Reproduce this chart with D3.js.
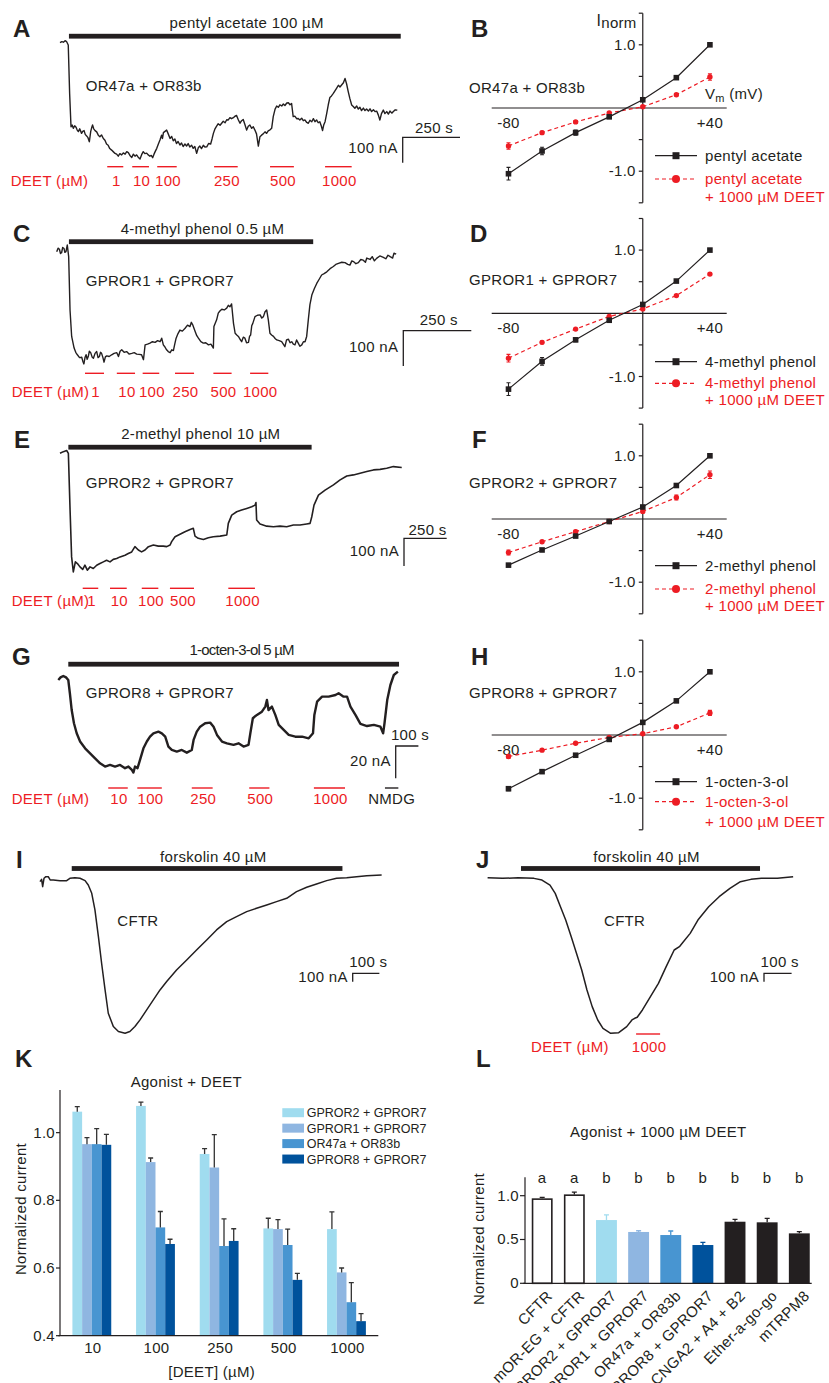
<!DOCTYPE html>
<html><head><meta charset="utf-8">
<script src="https://cdn.jsdelivr.net/npm/d3@7"></script>
<style>
body{margin:0;background:#fff}
text{font-family:"Liberation Sans",Arial,Helvetica,sans-serif;font-size:15px;letter-spacing:0.3px;fill:#231f20}
</style></head>
<body><svg id="fig" width="829" height="1383" xmlns="http://www.w3.org/2000/svg"></svg>
<script>
// ---------------- DATA ----------------
// Voltage-clamp traces: [time (s), current (nA)]
const traceA = [[0,0],[8,4],[15,2],[22,8],[29,4],[36,-9],[42,-200],[48,-332],[53,-325],[58,-338],[64,-328],[70,-334],[75,-345],[80,-351],[86,-340],[94,-358],[99,-350],[105,-347],[110,-362],[116,-368],[122,-375],[128,-391],[134,-350],[138,-336],[142,-325],[147,-340],[153,-347],[160,-352],[167,-365],[174,-371],[181,-364],[189,-378],[196,-385],[203,-400],[210,-405],[217,-418],[225,-424],[232,-430],[240,-437],[247,-440],[254,-448],[261,-438],[269,-443],[276,-435],[284,-440],[291,-430],[298,-434],[305,-445],[313,-453],[320,-440],[327,-448],[334,-443],[341,-452],[349,-459],[356,-442],[363,-430],[370,-438],[378,-436],[385,-443],[392,-448],[398,-445],[404,-454],[410,-440],[416,-428],[422,-417],[429,-400],[436,-384],[443,-365],[447,-378],[451,-355],[458,-350],[465,-345],[472,-360],[480,-378],[487,-370],[494,-387],[501,-380],[508,-398],[515,-390],[523,-404],[530,-396],[537,-410],[545,-400],[552,-408],[559,-398],[566,-412],[574,-405],[581,-417],[588,-410],[596,-437],[603,-415],[610,-408],[617,-418],[625,-405],[632,-412],[640,-411],[648,-398],[657,-400],[663,-380],[669,-358],[676,-340],[683,-329],[690,-320],[698,-326],[705,-318],[712,-310],[720,-316],[727,-304],[734,-305],[741,-296],[748,-300],[756,-296],[763,-290],[770,-287],[778,-305],[785,-318],[792,-308],[799,-303],[806,-322],[814,-345],[821,-330],[828,-325],[836,-338],[843,-332],[850,-345],[857,-360],[865,-408],[872,-371],[879,-365],[886,-360],[894,-352],[901,-358],[908,-348],[916,-344],[923,-338],[930,-292],[938,-262],[945,-250],[952,-255],[959,-245],[967,-250],[974,-242],[981,-248],[989,-238],[996,-237],[1003,-245],[1010,-240],[1017,-292],[1024,-290],[1032,-300],[1039,-299],[1046,-305],[1054,-298],[1061,-308],[1068,-305],[1076,-315],[1083,-318],[1090,-306],[1098,-312],[1105,-300],[1112,-312],[1119,-305],[1126,-316],[1133,-312],[1140,-330],[1145,-347],[1150,-325],[1156,-312],[1163,-280],[1170,-245],[1177,-216],[1184,-210],[1192,-200],[1199,-190],[1206,-180],[1214,-168],[1221,-175],[1228,-167],[1236,-158],[1243,-141],[1250,-163],[1257,-193],[1264,-220],[1272,-246],[1279,-252],[1286,-259],[1294,-250],[1301,-262],[1308,-255],[1315,-268],[1323,-258],[1330,-268],[1337,-262],[1345,-270],[1352,-261],[1359,-272],[1367,-265],[1374,-272],[1381,-270],[1388,-285],[1395,-305],[1402,-280],[1410,-266],[1417,-280],[1425,-272],[1432,-282],[1439,-270],[1447,-278],[1454,-272],[1462,-265],[1471,-266]];
const traceC = [[0,0],[5,10],[10,7],[14,-5],[18,-3],[22,12],[27,9],[30,-2],[34,0],[39,19],[44,-14],[49,-165],[55,-240],[64,-273],[70,-285],[76,-292],[84,-300],[92,-299],[96,-310],[100,-318],[104,-300],[108,-292],[112,-305],[116,-297],[120,-282],[125,-286],[130,-298],[135,-302],[141,-288],[147,-283],[152,-300],[157,-297],[161,-285],[165,-288],[170,-300],[174,-313],[179,-298],[184,-295],[193,-297],[202,-292],[211,-288],[221,-286],[227,-297],[233,-282],[239,-278],[248,-285],[257,-283],[266,-290],[276,-288],[285,-286],[294,-290],[303,-291],[312,-292],[319,-306],[325,-264],[334,-262],[343,-259],[352,-255],[362,-257],[371,-252],[380,-255],[386,-245],[392,-264],[398,-270],[404,-278],[410,-283],[417,-286],[423,-278],[429,-280],[434,-262],[439,-245],[446,-232],[453,-222],[462,-225],[472,-217],[481,-208],[490,-212],[495,-200],[500,-207],[509,-226],[515,-238],[521,-245],[530,-255],[539,-259],[548,-258],[558,-264],[567,-262],[576,-273],[578,-212],[588,-193],[594,-174],[600,-168],[607,-163],[616,-165],[625,-160],[631,-152],[637,-156],[643,-148],[650,-203],[656,-231],[662,-236],[668,-240],[674,-248],[680,-255],[686,-242],[692,-245],[698,-258],[705,-257],[709,-240],[713,-236],[717,-210],[721,-203],[729,-184],[738,-180],[748,-179],[754,-188],[760,-184],[766,-170],[772,-165],[778,-193],[784,-231],[790,-236],[797,-240],[803,-246],[809,-250],[818,-252],[827,-255],[833,-262],[839,-269],[845,-250],[852,-248],[858,-258],[864,-255],[870,-262],[876,-264],[882,-250],[888,-259],[894,-268],[901,-264],[907,-255],[913,-255],[919,-240],[925,-193],[931,-150],[938,-123],[947,-105],[956,-90],[965,-78],[974,-66],[983,-62],[993,-57],[1005,-48],[1017,-42],[1026,-36],[1036,-33],[1048,-30],[1060,-31],[1070,-36],[1078,-38],[1085,-26],[1091,-28],[1100,-34],[1109,-31],[1118,-22],[1127,-24],[1135,-30],[1140,-18],[1152,-22],[1160,-14],[1168,-26],[1176,-19],[1188,-12],[1201,-16],[1210,-20],[1218,-10],[1226,-14],[1235,-18],[1240,-4],[1248,-7]];
const traceE = [[0,0],[20,6],[39,10],[49,0],[59,-205],[68,-374],[78,-428],[90,-392],[102,-398],[117,-410],[133,-419],[146,-404],[160,-422],[176,-410],[195,-416],[215,-404],[234,-398],[254,-392],[273,-386],[293,-392],[312,-383],[332,-380],[352,-374],[381,-368],[400,-362],[420,-356],[439,-337],[459,-349],[478,-356],[498,-349],[518,-337],[547,-331],[576,-335],[605,-335],[625,-337],[645,-331],[654,-319],[674,-301],[703,-292],[732,-283],[762,-275],[781,-271],[791,-299],[810,-307],[840,-311],[869,-305],[898,-301],[938,-299],[977,-295],[986,-253],[1006,-223],[1035,-211],[1064,-205],[1094,-199],[1123,-193],[1143,-187],[1148,-178],[1152,-241],[1172,-255],[1211,-263],[1250,-265],[1289,-263],[1328,-265],[1367,-259],[1406,-259],[1445,-255],[1465,-253],[1475,-229],[1488,-187],[1514,-151],[1553,-133],[1602,-114],[1641,-96],[1680,-82],[1719,-78],[1758,-72],[1797,-66],[1836,-60],[1875,-58],[1914,-54],[1953,-48],[2002,-51]];
const traceG = [[0,0],[10,1.6],[22,2.5],[34,1.6],[44,0],[51,-8.2],[59,-18.6],[69,-26.8],[81,-33],[96,-38.1],[118,-42.3],[140,-45.4],[162,-48.5],[184,-51.6],[206,-53.6],[228,-52.6],[250,-53.6],[272,-52.6],[294,-54.6],[309,-53.6],[324,-55.7],[331,-57.3],[338,-53.6],[349,-54.6],[360,-49.5],[375,-42.3],[390,-38.1],[404,-35.1],[419,-33],[441,-32],[456,-33],[471,-35.1],[485,-41.2],[500,-43.3],[522,-44.3],[544,-43.3],[566,-45],[588,-43.3],[596,-37.1],[610,-32],[625,-28.9],[647,-26.8],[669,-26.4],[684,-28.9],[699,-34],[721,-38.1],[743,-39.2],[772,-40.2],[794,-39.2],[816,-41.2],[838,-40.2],[846,-33],[857,-23.7],[875,-21.6],[897,-19.6],[912,-16.5],[919,-12.4],[926,-18.6],[941,-16.5],[956,-21.6],[971,-27.8],[993,-30.9],[1015,-34],[1044,-35.1],[1074,-35.1],[1103,-36.1],[1122,-33],[1128,-21.6],[1140,-13.4],[1162,-10.3],[1191,-10.3],[1221,-9.3],[1235,-8.2],[1257,-10.3],[1272,-10.3],[1287,-16.5],[1309,-21.6],[1331,-27.2],[1360,-28.5],[1390,-27.8],[1419,-28.9],[1431,-33],[1437,-26.8],[1449,-12.4],[1463,-3.1],[1478,3.1],[1496,5.2]];
const traceI = [[0,-40],[6,-12],[10,-100],[15,0],[22,20],[31,20],[38,-20],[50,-20],[75,-28],[100,-28],[112,0],[131,8],[150,0],[169,-28],[181,-80],[194,-180],[206,-380],[219,-700],[231,-1020],[244,-1340],[256,-1620],[275,-1780],[294,-1840],[319,-1860],[337,-1840],[356,-1780],[375,-1700],[400,-1580],[425,-1460],[450,-1340],[475,-1240],[512,-1100],[550,-980],[587,-860],[625,-740],[662,-620],[700,-520],[737,-460],[775,-400],[812,-360],[850,-320],[887,-280],[925,-240],[962,-160],[1000,-108],[1037,-68],[1075,-28],[1112,0],[1150,8],[1187,20],[1225,32],[1281,40]];
const traceJ = [[0,0],[54,-8],[111,0],[168,-8],[197,-28],[226,-88],[245,-188],[264,-348],[283,-508],[303,-708],[322,-908],[341,-1108],[360,-1348],[379,-1548],[399,-1708],[418,-1808],[446,-1868],[475,-1860],[504,-1788],[523,-1708],[533,-1688],[542,-1676],[561,-1588],[590,-1428],[619,-1268],[647,-1068],[676,-868],[695,-828],[705,-788],[734,-668],[762,-508],[801,-348],[839,-228],[878,-128],[916,-48],[954,-20],[992,-8],[1050,-8],[1107,12]];

// Agonist application windows (s)
const agonistA = [39,1486], agonistC = [45,943], agonistE = [49,1474], agonistG = [44,1501], agonistI = [119,1134], agonistJ = [121,987];
// DEET application windows (s) and concentrations (µM)
const deetA = [[206,276],[315,388],[424,509],[672,775],[916,1020],[1156,1272]];
const deetLabelsA = ["1","10","100","250","500","1000"];
const deetC = [[104,174],[221,288],[316,377],[435,505],[576,643],[711,778]];
const deetLabelsC = ["1","10","100","250","500","1000"];
const deetE = [[133,224],[293,391],[479,576],[644,785],[986,1142]];
const deetLabelsE = ["1","10","100","500","1000"];
const deetG = [[220,306],[348,456],[588,680],[841,930],[1126,1263]];
const deetLabelsG = ["10","100","250","500","1000"];
const nmdgG = [1439,1498];
const deetJ = [[538,625]];
const deetLabelsJ = ["1000"];
// scale bars [s, nA]
const scaleA = [250,100], scaleC = [250,100], scaleE = [250,100], scaleG = [100,20], scaleI = [100,100], scaleJ = [100,100];

// I-V relations
const voltages = [-80,-60,-40,-20,0,20,40];
const ivB_ag = [-1.04,-0.68,-0.39,-0.14,0.13,0.48,1.0], ivB_agErr = [0.1,0.06,0.04,0.02,0.01,0.02,0.01];
const ivB_deet = [-0.6,-0.39,-0.22,-0.08,0.02,0.21,0.49], ivB_deetErr = [0.05,0.02,0.02,0.01,0.01,0.02,0.05];
const ivD_ag = [-1.2,-0.76,-0.42,-0.11,0.14,0.51,1.0], ivD_agErr = [0.1,0.06,0.03,0.01,0.01,0.02,0.01];
const ivD_deet = [-0.71,-0.46,-0.25,-0.05,0.07,0.28,0.62], ivD_deetErr = [0.06,0.02,0.01,0.01,0.01,0.01,0.02];
const ivF_ag = [-0.73,-0.49,-0.27,-0.04,0.19,0.53,1.0], ivF_agErr = [0.02,0.01,0.01,0.01,0.01,0.01,0.01];
const ivF_deet = [-0.53,-0.36,-0.2,-0.04,0.12,0.34,0.7], ivF_deetErr = [0.04,0.02,0.02,0.01,0.02,0.04,0.06];
const ivH_ag = [-0.85,-0.58,-0.32,-0.07,0.2,0.54,1.0], ivH_agErr = [0.03,0.01,0.01,0.01,0.01,0.01,0.01];
const ivH_deet = [-0.34,-0.24,-0.13,-0.04,0.02,0.13,0.35], ivH_deetErr = [0.03,0.01,0.01,0.01,0.01,0.01,0.04];
const ivTickLabels = ["-80","+40"];

// Panel K
const kCategories = ["10","100","250","500","1000"];
const kSeries = ["GPROR2 + GPROR7","GPROR1 + GPROR7","OR47a + OR83b","GPROR8 + GPROR7"];
const kValues = [
  [1.062,1.079,0.937,0.717,0.715],
  [0.966,0.913,0.897,0.715,0.587],
  [0.966,0.720,0.665,0.668,0.499],
  [0.964,0.671,0.680,0.565,0.443]];
const kErrors = [
  [0.015,0.011,0.016,0.030,0.051],
  [0.019,0.012,0.097,0.028,0.013],
  [0.046,0.047,0.080,0.047,0.058],
  [0.031,0.014,0.036,0.019,0.022]];
const kYTicks = [0.4,0.6,0.8,1.0];
const kColors = ["#a0dcef","#8fb6e1","#4895d1","#00529c"];

// Panel L
const lCategories = ["CFTR","mOR-EG + CFTR","GPROR2 + GPROR7","GPROR1 + GPROR7","OR47a + OR83b","GPROR8 + GPROR7","CNGA2 + A4 + B2","Ether-a-go-go","mTRPM8"];
const lValues = [0.97,1.015,0.722,0.586,0.551,0.437,0.703,0.696,0.570];
const lErrors = [0.01,0.025,0.058,0.014,0.046,0.031,0.027,0.045,0.019];
const lLetters = ["a","a","b","b","b","b","b","b","b"];
const lFills = ["#ffffff","#ffffff","#a0dcef","#8fb6e1","#4895d1","#00529c","#231f20","#231f20","#231f20"];
const lYTicks = [0,0.5,1.0];

// ---------------- DRAWING ----------------
const RED = "#ed1c24", INK = "#231f20";
const svg = d3.select("#fig");

function addText(x, y, s, o = {}) {
  const t = svg.append("text").attr("x", x).attr("y", y).text(s);
  if (o.anchor) t.attr("text-anchor", o.anchor);
  if (o.fill) t.style("fill", o.fill);
  if (o.size) t.style("font-size", o.size + "px");
  if (o.weight) t.style("font-weight", o.weight);
  if (o.ls != null) t.style("letter-spacing", o.ls + "px");
  return t;
}
function panelLetter(x, y, s) { addText(x, y, s, {size: 24, weight: "bold", ls: 0}); }

function tracePanel(p) {
  const x = d3.scaleLinear().domain([0, 1000]).range([p.x0, p.x0 + 1000 * p.kx]);
  const y = d3.scaleLinear().domain([0, -1000]).range([p.y0, p.y0 + 1000 * p.ky]);
  svg.append("path").datum(p.data)
    .attr("fill", "none").attr("stroke", INK).attr("stroke-width", p.sw || 1.4).attr("stroke-linejoin", "round")
    .attr("d", d3.line().x(d => x(d[0])).y(d => y(d[1])));
  svg.append("rect").attr("x", x(p.ag[0])).attr("width", x(p.ag[1]) - x(p.ag[0]))
    .attr("y", p.agY - 2.4).attr("height", 4.8).attr("fill", INK);
  addText(p.agTx, p.agTy, p.agLabel, {anchor: "middle", ls: p.agLs});
  addText(p.recX, p.recY, p.rec);
  p.deet.forEach((d, i) => {
    svg.append("line").attr("x1", x(d[0])).attr("x2", x(d[1])).attr("y1", p.deetY).attr("y2", p.deetY)
      .attr("stroke", RED).attr("stroke-width", 1.4);
    addText((x(d[0]) + x(d[1])) / 2 + 1, p.lblY, p.deetLbl[i], {anchor: "middle", fill: RED});
  });
  if (p.deet.length) addText(p.deetTx, p.lblY, "DEET (µM)", {fill: RED});
  if (p.nmdg) {
    svg.append("line").attr("x1", x(p.nmdg[0])).attr("x2", x(p.nmdg[1])).attr("y1", p.deetY).attr("y2", p.deetY)
      .attr("stroke", INK).attr("stroke-width", 1.4);
    addText((x(p.nmdg[0]) + x(p.nmdg[1])) / 2, p.lblY, "NMDG", {anchor: "middle"});
  }
  const [cx, cy] = p.sbCorner;
  const w = x(p.sb[0]) - x(0), h = y(-p.sb[1]) - y(0);
  svg.append("path").attr("d", `M${cx + w},${cy}H${cx}V${cy + h}`)
    .attr("fill", "none").attr("stroke", INK).attr("stroke-width", 1.3);
  addText(p.sbTx[0], p.sbTx[1], p.sb[0] + " s", {anchor: "middle"});
  addText(cx - 5, p.sbNy, p.sb[1] + " nA", {anchor: "end"});
  panelLetter(p.letter[1], p.letter[2], p.letter[0]);
}

tracePanel({data: traceA, x0: 60, kx: 0.2293, y0: 42.7, ky: 0.2533, ag: agonistA, agY: 36.2,
  agLabel: "pentyl acetate 100 µM", agTx: 246.7, agTy: 28, rec: "OR47a + OR83b", recX: 85.7, recY: 90.7,
  deet: deetA, deetLbl: deetLabelsA, deetY: 166.7, lblY: 185.7, deetTx: 10.7,
  sb: scaleA, sbCorner: [402.7, 137.3], sbTx: [434, 133], sbNy: 153, letter: ["A", 13, 37]});
tracePanel({data: traceC, x0: 56.7, kx: 0.272, y0: 251.7, ky: 0.353, ag: agonistC, agY: 241.7,
  agLabel: "4-methyl phenol 0.5 µM", agTx: 202.5, agTy: 234, rec: "GPROR1 + GPROR7", recX: 85.7, recY: 285.5,
  deet: deetC, deetLbl: deetLabelsC, deetY: 373.3, lblY: 396.7, deetTx: 11.7,
  sb: scaleC, sbCorner: [403.3, 330.7], sbTx: [438.8, 325], sbNy: 351.7, letter: ["C", 13, 241.5]});
tracePanel({data: traceE, x0: 60, kx: 0.1707, y0: 453.3, ky: 0.277, ag: agonistE, agY: 447.2, sw: 1.6,
  agLabel: "2-methyl phenol 10 µM", agTx: 200.8, agTy: 439.3, rec: "GPROR2 + GPROR7", recX: 85.7, recY: 488,
  deet: deetE, deetLbl: deetLabelsE, deetY: 588.3, lblY: 606, deetTx: 11.7,
  sb: scaleE, sbCorner: [404, 538.3], sbTx: [427.5, 535], sbNy: 555.7, letter: ["E", 14, 448.3]});
tracePanel({data: traceG, x0: 58.3, kx: 0.227, y0: 680, ky: 1.615, ag: agonistG, agY: 664.2, sw: 2.4,
  agLabel: "1-octen-3-ol 5 µM", agTx: 241.7, agTy: 655, agLs: -0.8, rec: "GPROR8 + GPROR7", recX: 85.7, recY: 698,
  deet: deetG, deetLbl: deetLabelsG, deetY: 788, lblY: 804, deetTx: 11.7, nmdg: nmdgG,
  sb: scaleG, sbCorner: [395.7, 746], sbTx: [410, 740], sbNy: 765.7, letter: ["G", 12, 665]});
tracePanel({data: traceI, x0: 40, kx: 0.2667, y0: 878.3, ky: 0.0833, ag: agonistI, agY: 868.5, sw: 1.5,
  agLabel: "forskolin 40 µM", agTx: 213.3, agTy: 861.7, rec: "CFTR", recX: 117.3, recY: 926,
  deet: [], deetLbl: [], deetY: 0, lblY: 0, deetTx: 0,
  sb: scaleI, sbCorner: [352.7, 973.3], sbTx: [368.3, 966.7], sbNy: 981.7, letter: ["I", 16, 868]});
tracePanel({data: traceJ, x0: 487.6, kx: 0.276, y0: 877.7, ky: 0.0833, ag: agonistJ, agY: 868.5, sw: 1.5,
  agLabel: "forskolin 40 µM", agTx: 646.5, agTy: 861.7, rec: "CFTR", recX: 604, recY: 926,
  deet: deetJ, deetLbl: deetLabelsJ, deetY: 1034, lblY: 1052, deetTx: 531,
  sb: scaleJ, sbCorner: [764, 973.3], sbTx: [779.7, 966.7], sbNy: 981.7, letter: ["J", 476, 868]});

// ----- I-V panels -----
function ivPanel(p) {
  const x = d3.scaleLinear().domain([-90, 50]).range([491.7, 726.7]);
  const y = d3.scaleLinear().domain([-1.5, 1.5]).range([p.axisY + 1.5 * 63.2, p.axisY - 1.5 * 63.2]);
  svg.append("line").attr("x1", x(-90)).attr("x2", x(50)).attr("y1", y(0)).attr("y2", y(0)).attr("stroke", INK).attr("stroke-width", 1.2);
  svg.append("line").attr("x1", x(0)).attr("x2", x(0)).attr("y1", y(-1.5)).attr("y2", y(1.5)).attr("stroke", INK).attr("stroke-width", 1.2);
  [-1.5, -1, -0.5, 0.5, 1, 1.5].forEach(v => svg.append("line").attr("x1", x(0) - 4).attr("x2", x(0)).attr("y1", y(v)).attr("y2", y(v)).attr("stroke", INK).attr("stroke-width", 1.2));
  [1, -1].forEach(v => addText(x(0) - 7, y(v) + 5, d3.format(".1f")(v).replace("−", "-"), {anchor: "end"}));
  [-80, 40].forEach((v, i) => addText(x(v), y(0) + 20, ivTickLabels[i], {anchor: "middle"}));
  addText(469, p.recY, p.rec);
  const series = [
    {v: p.deet, e: p.deetErr, color: RED, dash: "4,3", shape: "circle"},
    {v: p.ag, e: p.agErr, color: INK, dash: null, shape: "square"}];
  series.forEach(s => {
    const pts = d3.zip(voltages, s.v, s.e);
    svg.append("path").datum(pts).attr("fill", "none").attr("stroke", s.color).attr("stroke-width", 1.2)
      .attr("stroke-dasharray", s.dash).attr("d", d3.line().x(d => x(d[0])).y(d => y(d[1])));
    pts.forEach(d => {
      const cx = x(d[0]);
      svg.append("path").attr("d", `M${cx},${y(d[1] - d[2])}V${y(d[1] + d[2])}M${cx - 2},${y(d[1] - d[2])}H${cx + 2}M${cx - 2},${y(d[1] + d[2])}H${cx + 2}`)
        .attr("stroke", s.color).attr("stroke-width", 1.1).attr("fill", "none");
      if (s.shape === "circle") svg.append("circle").attr("cx", cx).attr("cy", y(d[1])).attr("r", 2.7).attr("fill", s.color);
      else svg.append("rect").attr("x", cx - 2.8).attr("y", y(d[1]) - 2.8).attr("width", 5.6).attr("height", 5.6).attr("fill", s.color);
    });
  });
  // legend
  const ly1 = p.axisY + p.leg[0], ly2 = p.axisY + p.leg[1];
  svg.append("line").attr("x1", 655).attr("x2", 697).attr("y1", ly1).attr("y2", ly1).attr("stroke", INK).attr("stroke-width", 1.2);
  svg.append("rect").attr("x", 672.5).attr("y", ly1 - 3.5).attr("width", 7).attr("height", 7).attr("fill", INK);
  addText(705, ly1 + 5, p.agName);
  svg.append("line").attr("x1", 655).attr("x2", 697).attr("y1", ly2).attr("y2", ly2).attr("stroke", RED).attr("stroke-width", 1.2).attr("stroke-dasharray", "4,3");
  svg.append("circle").attr("cx", 676).attr("cy", ly2).attr("r", 4).attr("fill", RED);
  addText(705, ly2 + 5, p.agName, {fill: RED});
  addText(705, p.axisY + p.leg[2], "+ 1000 µM DEET", {fill: RED});
  panelLetter(p.letter[1], p.letter[2], p.letter[0]);
}
ivPanel({axisY: 108, ag: ivB_ag, agErr: ivB_agErr, deet: ivB_deet, deetErr: ivB_deetErr, rec: "OR47a + OR83b", recY: 92.7,
  agName: "pentyl acetate", leg: [47.7, 71, 93.5], letter: ["B", 471, 36.7]});
ivPanel({axisY: 313.3, ag: ivD_ag, agErr: ivD_agErr, deet: ivD_deet, deetErr: ivD_deetErr, rec: "GPROR1 + GPROR7", recY: 285.3,
  agName: "4-methyl phenol", leg: [48.4, 70, 92], letter: ["D", 470, 241.7]});
ivPanel({axisY: 519, ag: ivF_ag, agErr: ivF_agErr, deet: ivF_deet, deetErr: ivF_deetErr, rec: "GPROR2 + GPROR7", recY: 487.7,
  agName: "2-methyl phenol", leg: [46.7, 70, 91.5], letter: ["F", 472, 448.3]});
ivPanel({axisY: 735, ag: ivH_ag, agErr: ivH_agErr, deet: ivH_deet, deetErr: ivH_deetErr, rec: "GPROR8 + GPROR7", recY: 698.3,
  agName: "1-octen-3-ol", leg: [46.7, 66.7, 92], letter: ["H", 471, 665]});
// axis titles of panel B
const inorm = svg.append("text").attr("x", 596.5).attr("y", 25.5);
inorm.append("tspan").text("I").style("font-size", "16px");
inorm.append("tspan").text("norm").attr("dy", 2).style("font-size", "15px");
const vm = svg.append("text").attr("x", 705).attr("y", 99.3);
vm.append("tspan").text("V");
vm.append("tspan").text("m").attr("dy", 2.5).style("font-size", "11px");
vm.append("tspan").text(" (mV)").attr("dy", -2.5);

// ----- Panel K -----
{
  const xK = d3.scaleBand().domain(kCategories).range([60, 378.3]).paddingInner(0.39).paddingOuter(0.195);
  const xS = d3.scaleBand().domain(kSeries).range([0, xK.bandwidth()]);
  const yK = d3.scaleLinear().domain([0.4, 1.126]).range([1335.7, 1090]);
  kSeries.forEach((s, si) => {
    kCategories.forEach((c, ci) => {
      const v = kValues[si][ci], e = kErrors[si][ci];
      const bx = xK(c) + xS(s);
      svg.append("rect").attr("x", bx).attr("width", xS.bandwidth()).attr("y", yK(v)).attr("height", yK(0.4) - yK(v)).attr("fill", kColors[si]);
      const mx = bx + xS.bandwidth() / 2;
      svg.append("path").attr("d", `M${mx},${yK(v)}V${yK(v + e)}M${mx - 2.5},${yK(v + e)}H${mx + 2.5}`)
        .attr("stroke", "#333").attr("stroke-width", 1.3).attr("fill", "none");
    });
  });
  svg.append("line").attr("x1", 60).attr("x2", 60).attr("y1", yK(1.126)).attr("y2", yK(0.4)).attr("stroke", INK).attr("stroke-width", 1.2);
  svg.append("line").attr("x1", 58.3).attr("x2", 378.3).attr("y1", yK(0.4)).attr("y2", yK(0.4)).attr("stroke", INK).attr("stroke-width", 1.2);
  kYTicks.forEach(t => {
    svg.append("line").attr("x1", 56).attr("x2", 60).attr("y1", yK(t)).attr("y2", yK(t)).attr("stroke", INK).attr("stroke-width", 1.2);
    addText(55, yK(t) + 5, d3.format(".1f")(t), {anchor: "end"});
  });
  kCategories.forEach(c => addText(xK(c) + xK.bandwidth() / 2 + 1, 1353.3, c, {anchor: "middle"}));
  addText(211.7, 1376.7, "[DEET] (µM)", {anchor: "middle"});
  svg.append("text").attr("transform", "translate(26,1209) rotate(-90)").attr("text-anchor", "middle").text("Normalized current");
  addText(186.3, 1086.7, "Agonist + DEET", {anchor: "middle"});
  kSeries.forEach((s, si) => {
    const yy = 1112.7 + si * 15.45;
    svg.append("rect").attr("x", 282.3).attr("y", yy - 4.5).attr("width", 21.7).attr("height", 9).attr("fill", kColors[si]);
    addText(306.7, yy + 4.5, s, {size: 12.5, ls: 0});
  });
  panelLetter(15, 1067, "K");
}

// ----- Panel L -----
{
  const xL = d3.scaleBand().domain(lCategories).range([525, 816.5]).paddingInner(0.35).paddingOuter(0.21);
  const yL = d3.scaleLinear().domain([0, 1.21]).range([1283.3, 1177.3]);
  lCategories.forEach((c, i) => {
    const v = lValues[i], e = lErrors[i];
    const white = lFills[i] === "#ffffff";
    const col = white ? INK : lFills[i];
    const mx = xL(c) + xL.bandwidth() / 2;
    svg.append("path").attr("d", `M${mx},${yL(v)}V${yL(v + e)}M${mx - 2.5},${yL(v + e)}H${mx + 2.5}`)
      .attr("stroke", col).attr("stroke-width", 1.3).attr("fill", "none");
    if (white) svg.append("rect").attr("x", xL(c) + 0.8).attr("width", xL.bandwidth() - 1.6).attr("y", yL(v) + 0.8).attr("height", yL(0) - yL(v) - 0.8)
      .attr("fill", "#fff").attr("stroke", INK).attr("stroke-width", 1.6);
    else svg.append("rect").attr("x", xL(c)).attr("width", xL.bandwidth()).attr("y", yL(v)).attr("height", yL(0) - yL(v)).attr("fill", lFills[i]);
    addText(mx, 1183.3, lLetters[i], {anchor: "middle"});
    svg.append("text").attr("transform", `translate(${mx + 11},${1297}) rotate(-45)`).attr("text-anchor", "end").text(c);
  });
  svg.append("line").attr("x1", 525).attr("x2", 525).attr("y1", yL(1.21)).attr("y2", yL(0)).attr("stroke", INK).attr("stroke-width", 1.2);
  svg.append("line").attr("x1", 523.3).attr("x2", 811.7).attr("y1", yL(0)).attr("y2", yL(0)).attr("stroke", INK).attr("stroke-width", 1.2);
  lYTicks.forEach(t => {
    svg.append("line").attr("x1", 520).attr("x2", 525).attr("y1", yL(t)).attr("y2", yL(t)).attr("stroke", INK).attr("stroke-width", 1.2);
    addText(519, yL(t) + 5, t === 0 ? "0" : d3.format(".1f")(t), {anchor: "end"});
  });
  svg.append("text").attr("transform", "translate(484,1239) rotate(-90)").attr("text-anchor", "middle").text("Normalized current");
  addText(658.3, 1137.3, "Agonist + 1000 µM DEET", {anchor: "middle"});
  panelLetter(476, 1067, "L");
}
</script></body></html>
